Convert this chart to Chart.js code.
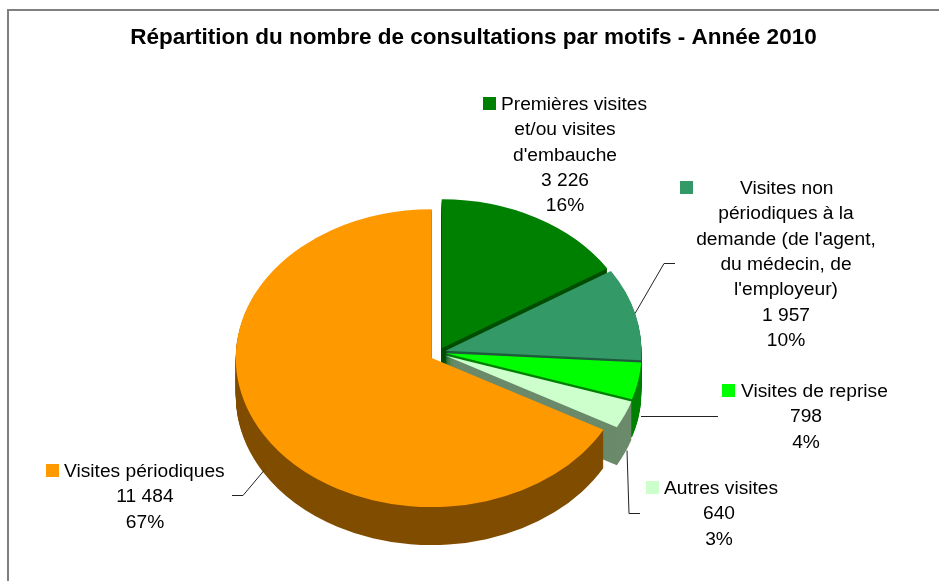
<!DOCTYPE html>
<html lang="fr">
<head>
<meta charset="utf-8">
<title>Répartition du nombre de consultations par motifs</title>
<script src="https://cdn.jsdelivr.net/npm/chart.js@4"></script>
<style>
html,body{margin:0;padding:0;background:#fff;overflow:hidden}
canvas{display:block}
</style>
</head>
<body>
<canvas id="c" width="939" height="581"></canvas>
<script>
const titleText = "Répartition du nombre de consultations par motifs - Année 2010";
const categories = ["Premières visites et/ou visites d'embauche","Visites non périodiques à la demande (de l'agent, du médecin, de l'employeur)","Visites de reprise","Autres visites","Visites périodiques"];
const counts = [3226, 1957, 798, 640, 11484];
const shares = [16, 10, 4, 3, 67];
const topColors = ["#008000","#339966","#00ff00","#ccffcc","#ff9900"];
const wallColors = ["#004d00","#1f5c3d","#008000","#6b8a6b","#804d00"];
const labelLines = [
  ["Premières visites","et/ou visites","d'embauche"],
  ["Visites non","périodiques à la","demande (de l'agent,","du médecin, de","l'employeur)"],
  ["Visites de reprise"],
  ["Autres visites"],
  ["Visites périodiques"]
];

const PIE = {cx:438.2, cy:355.2, r:196, squash:0.76, depth:38, explode:7.5, lift:[2,3,3,2,0]};
const labelLayout = [
  {cx:565, y:104.5, key:[483,97], firstX:501},
  {cx:786, y:188.5, key:[680,181], firstX:740},
  {cx:806, y:391.5, key:[722,384], firstX:741},
  {cx:719, y:488.5, key:[646,481], firstX:664},
  {cx:145, y:471.5, key:[46,464], firstX:64}
];
const leaders = [
  null,
  [[635,313],[664,263],[675,263]],
  [[641,416],[718,416]],
  [[627,450],[629,513],[640,513]],
  [[232,495],[243,495],[264,470]]
];
const fmt = n => String(n).replace(/\B(?=(\d{3})+$)/g," ");

const pie3d = {
  id:"pie3d",
  beforeDraw(chart){
    const c = chart.ctx;
    c.save();
    c.fillStyle="#fff"; c.fillRect(0,0,939,581);
    c.strokeStyle="#808080"; c.lineWidth=2;
    c.beginPath(); c.moveTo(8,581); c.lineTo(8,10); c.lineTo(939,10); c.stroke();
    c.restore();
  },
  beforeDatasetsDraw(chart){
    const c = chart.ctx, arcs = chart.getDatasetMeta(0).data;
    arcs.forEach((el,i)=>{
      const opts = el.options, mid = (el.startAngle+el.endAngle)/2;
      const paint = (shift,color)=>{
        c.save();
        c.translate(PIE.cx, PIE.cy+shift-PIE.lift[i]);
        c.scale(1,PIE.squash);
        c.translate(Math.cos(mid)*PIE.explode-el.x, Math.sin(mid)*PIE.explode-el.y);
        el.options = Object.assign({},opts,{backgroundColor:color,borderColor:color,borderWidth:0,offset:0});
        el.draw(c);
        c.restore();
      };
      for(let s=PIE.depth;s>=1;s--) paint(s,wallColors[i]);
      paint(0,topColors[i]);
      el.options = opts;
    });
    return false;
  },
  afterDraw(chart){
    const c = chart.ctx;
    c.save();
    c.strokeStyle="#222"; c.lineWidth=1;
    leaders.forEach(pts=>{
      if(!pts) return;
      c.beginPath();
      pts.forEach((p,i)=> i?c.lineTo(p[0],p[1]+.5):c.moveTo(p[0],p[1]+.5));
      c.stroke();
    });
    c.font='19.2px "Liberation Sans", Arial, sans-serif';
    c.textBaseline="middle"; c.fillStyle="#000";
    labelLines.forEach((lines,i)=>{
      const L = labelLayout[i];
      c.fillStyle=topColors[i];
      c.fillRect(L.key[0],L.key[1],13,13);
      c.fillStyle="#000";
      const all = lines.concat([fmt(counts[i]), shares[i]+"%"]);
      all.forEach((t,j)=>{
        const y = L.y+j*25.4;
        if(j===0){ c.textAlign="left"; c.fillText(t,L.firstX,y); }
        else { c.textAlign="center"; c.fillText(t,L.cx,y); }
      });
    });
    c.restore();
  }
};

new Chart(document.getElementById("c"),{
  type:"pie",
  data:{labels:categories,datasets:[{data:shares,backgroundColor:topColors,borderWidth:0}]},
  options:{
    responsive:false,animation:false,radius:PIE.r,
    layout:{padding:{left:8}},
    events:[],
    plugins:{
      legend:{display:false},tooltip:{enabled:false},
      title:{display:true,text:titleText,color:"#000",padding:{top:24,bottom:10},
        font:{family:'"Liberation Sans", Arial, sans-serif',size:22.5,weight:"bold"}}
    }
  },
  plugins:[pie3d]
});
</script>
</body>
</html>
